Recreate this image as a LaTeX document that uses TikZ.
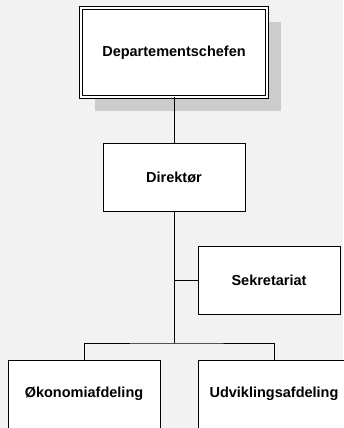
\documentclass[tikz,border=0pt]{standalone}
\usepackage{fontspec}
\setmainfont{Liberation Sans}
\usetikzlibrary{positioning, shadows}
\definecolor{bggray}{HTML}{F2F2F2}

\begin{document}
\begin{tikzpicture}[x=1pt, y=-1pt,
  box/.style={draw, fill=white, line width=0.8pt, minimum width=142pt, minimum height=68pt,
              align=center, font=\fontsize{14.5}{17}\selectfont\bfseries},
  topbox/.style={box, double, line width=0.6pt, double distance=2pt,
                 minimum width=186pt, minimum height=89pt,
                 drop shadow={shadow xshift=14pt, shadow yshift=-14pt, fill=black!20, opacity=1}},
  line/.style={line width=1pt}]
  \fill[bggray] (0,0) rectangle (343,428);
  \useasboundingbox (0,0) rectangle (343,428);
  \node[topbox] (dep) at (174,52.5) {Departementschefen};
  \node[box, below=46pt of dep] (dir) {Direktør};
  \node[box] (sek) at (269,280) {Sekretariat};
  \node[box, minimum width=152pt] (oko) at (84,394) {Økonomiafdeling};
  \node[box, minimum width=152pt] (udv) at (274,394) {Udviklingsafdeling};
  \coordinate (bar) at (174,343);
  \draw[line] (dep) -- (dir);
  \draw[line] (dir) -- (bar);
  \draw[line] (dir.south |- sek.west) -- (sek.west);
  \draw[line] (oko.north) |- (bar) -| (udv.north);
\end{tikzpicture}
\end{document}
